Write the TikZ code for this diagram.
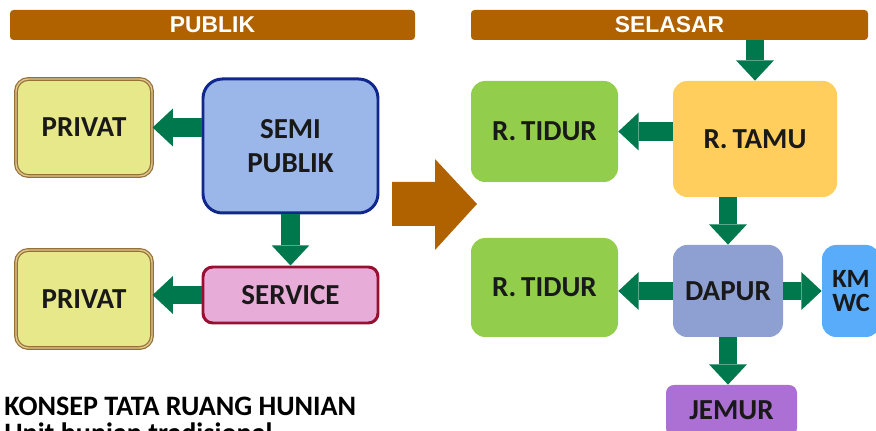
\documentclass[tikz,border=0pt]{standalone}
\usepackage{fontspec}
\setmainfont{Carlito}
\newfontfamily\barfont{Liberation Sans}
\usetikzlibrary{arrows.meta}
\definecolor{barbrown}{RGB}{176,98,0}
\definecolor{flowgreen}{RGB}{0,120,78}
\definecolor{privfill}{RGB}{231,232,138}
\definecolor{privedge}{RGB}{150,112,56}
\definecolor{privgap}{RGB}{222,200,140}
\definecolor{semifill}{RGB}{155,182,232}
\definecolor{semiedge}{RGB}{16,40,140}
\definecolor{servfill}{RGB}{232,172,216}
\definecolor{servedge}{RGB}{150,16,50}
\definecolor{tidurfill}{RGB}{146,206,76}
\definecolor{tamufill}{RGB}{255,206,92}
\definecolor{dapurfill}{RGB}{142,160,210}
\definecolor{kmfill}{RGB}{88,172,250}
\definecolor{jemurfill}{RGB}{172,112,212}

\begin{document}
\begin{tikzpicture}[x=0.02cm,y=-0.02cm,
  bar/.style={fill=barbrown,rounded corners=2pt,text=white,inner sep=0pt,
    font=\barfont\bfseries\fontsize{13}{15}\selectfont},
  room/.style={rounded corners=8pt,inner sep=0pt,align=center,text=black!90,
    font=\bfseries\fontsize{16.5}{19.3}\selectfont},
  flow/.style={draw=flowgreen,line width=10.5pt,
    -{Triangle[width=21.5pt,length=11.5pt,line width=0pt]}}]
   \useasboundingbox (0,0) rectangle (876,431);
   % bars
   \node[bar,minimum width=405*0.02cm,minimum height=30*0.02cm] (pub) at (212.5,25) {PUBLIK};
   \node[bar,minimum width=397*0.02cm,minimum height=30*0.02cm] (sel) at (669.5,25) {SELASAR};
   % left scheme
   \node[room,rounded corners=7pt,fill=privfill,draw=privedge,line width=0.7pt,double=privgap,double distance=0.8pt,
     minimum width=136*0.02cm,minimum height=97*0.02cm] (priv1) at (84,127.5) {PRIVAT};
   \node[room,rounded corners=11pt,fill=semifill,draw=semiedge,line width=1.7pt,
     minimum width=175*0.02cm,minimum height=134*0.02cm] (semi) at (290.5,146) {SEMI\\PUBLIK};
   \node[room,rounded corners=5.5pt,fill=servfill,draw=servedge,line width=1.7pt,
     minimum width=175*0.02cm,minimum height=56*0.02cm] (service) at (290.5,295) {SERVICE};
   \node[room,rounded corners=7pt,fill=privfill,draw=privedge,line width=0.7pt,double=privgap,double distance=0.8pt,
     minimum width=136*0.02cm,minimum height=98*0.02cm] (priv2) at (84,299) {PRIVAT};
   \draw[flow] (semi.west |- priv1.east) -- (priv1.east);
   \draw[flow] (semi.south) -- (service.north);
   \draw[flow] (service.west) -- (service.west -| priv2.east);
   % big arrow
   \fill[barbrown] (392,182) -- (435,182) -- (435,159) -- (477,204) -- (435,250) -- (435,226) -- (392,226) -- cycle;
   % right scheme
   \node[room,fill=tidurfill,minimum width=147*0.02cm,minimum height=101*0.02cm] (tidur1) at (544.5,131.5) {R.\,TIDUR};
   \node[room,fill=tamufill,minimum width=164*0.02cm,minimum height=116*0.02cm] (tamu) at (755,139) {R.\,TAMU};
   \node[room,fill=tidurfill,minimum width=147*0.02cm,minimum height=99*0.02cm] (tidur2) at (544.5,287.5) {R.\,TIDUR};
   \node[room,fill=dapurfill,minimum width=110*0.02cm,minimum height=92*0.02cm] (dapur) at (728,291) {DAPUR};
   \node[room,fill=kmfill,font=\bfseries\fontsize{15}{14}\selectfont,
     minimum width=58*0.02cm,minimum height=92*0.02cm] (kmwc) at (851,291) {KM\\WC};
   \node[room,rounded corners=4.5pt,fill=jemurfill,minimum width=131*0.02cm,minimum height=51*0.02cm] (jemur) at (731.5,410.5) {JEMUR};
   \draw[flow] (tamu.north |- sel.south) -- (tamu.north);
   \draw[flow] (tamu.west |- tidur1.east) -- (tidur1.east);
   \draw[flow] (dapur.north |- tamu.south) -- (dapur.north);
   \draw[flow] (dapur.west) -- (dapur.west -| tidur2.east);
   \draw[flow] (dapur.east) -- (kmwc.west);
   \draw[flow] (dapur.south) -- (dapur.south |- jemur.north);
   % caption
   \node[anchor=base west,inner sep=0pt,font=\bfseries\fontsize{16}{18}\selectfont] (title) at (4,416) {KONSEP TATA RUANG HUNIAN};
   \node[anchor=base west,inner sep=0pt,font=\bfseries\fontsize{16}{18}\selectfont] (subtitle) at (4,443) {Unit hunian tradisional};
\end{tikzpicture}
\end{document}
